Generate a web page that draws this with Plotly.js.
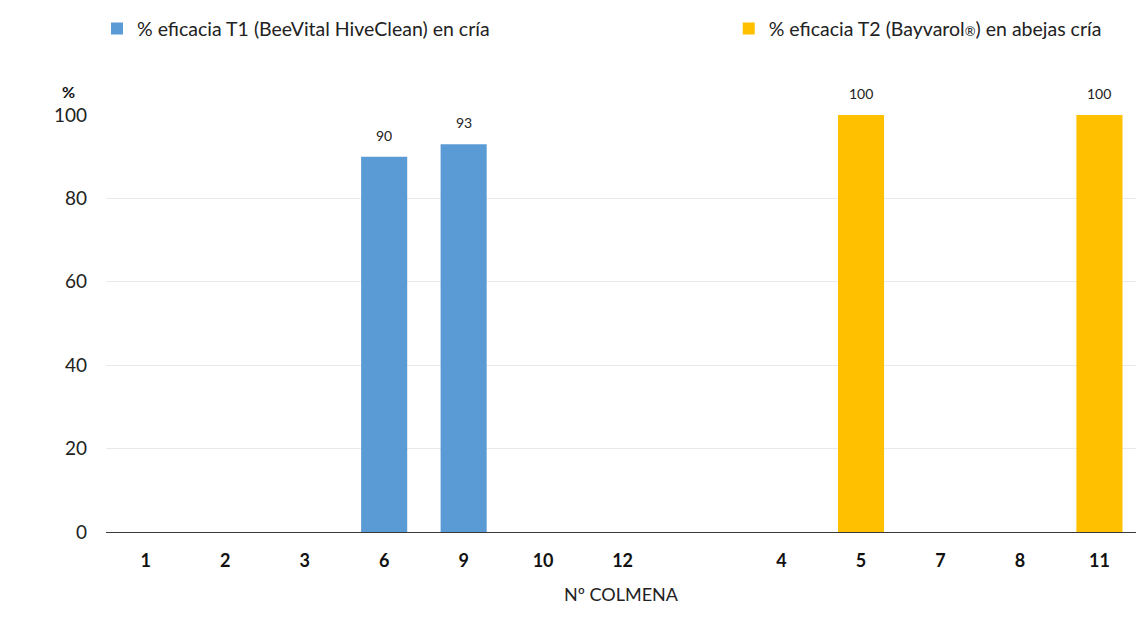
<!DOCTYPE html>
<html>
<head>
<meta charset="utf-8">
<script src="https://cdn.plot.ly/plotly-3.0.1.min.js"></script>
<style>
  html, body { margin: 0; padding: 0; background: #ffffff; }
  #chart { width: 1136px; height: 622px; }
</style>
</head>
<body>
<div id="chart"></div>
<script>
// Hive numbers on the x axis; a blank slot separates the two treatment groups
const groupT1 = ['1', '2', '3', '6', '9', '10', '12'];
const groupT2 = ['4', '5', '7', '8', '11'];
const gapSlot = ' ';
const categoryOrder = groupT1.concat([gapSlot], groupT2);

// Efficacy (%) per hive
const valuesT1 = [0, 0, 0, 90, 93, 0, 0];
const valuesT2 = [0, 100, 0, 0, 100];

const nameT1 = '% eficacia T1 (BeeVital HiveClean) en cría';
const nameT2 = '% eficacia T2 (Bayvarol<span style="font-size:13px">®</span>) en abejas cría';

const FONT = 'Lato, "Open Sans", "DejaVu Sans", sans-serif';

const traces = [
  {
    type: 'bar',
    name: nameT1,
    legend: 'legend',
    x: groupT1,
    y: valuesT1,
    width: 0.58,
    marker: { color: '#5b9bd5' },
    hoverinfo: 'x+y'
  },
  {
    type: 'bar',
    name: nameT2,
    legend: 'legend2',
    x: groupT2,
    y: valuesT2,
    width: 0.58,
    marker: { color: '#ffc000' },
    hoverinfo: 'x+y'
  }
];

// Value labels above the non-zero bars (numeric-looking category names are
// placed by their position in the category order)
const valueLabels = [];
[[groupT1, valuesT1], [groupT2, valuesT2]].forEach(([cats, vals]) => {
  vals.forEach((v, i) => {
    if (v > 0) {
      valueLabels.push({
        x: categoryOrder.indexOf(cats[i]), y: v, xref: 'x', yref: 'y',
        text: String(v), showarrow: false,
        yanchor: 'bottom', yshift: 11,
        font: { family: FONT, size: 14, color: '#222222' }
      });
    }
  });
});

const legendFont = { family: FONT, size: 19.5, color: '#222222' };

const layout = {
  width: 1136,
  height: 622,
  margin: { l: 106, r: 0, t: 115, b: 90 },
  paper_bgcolor: '#ffffff',
  plot_bgcolor: '#ffffff',
  font: { family: FONT, size: 19, color: '#222222' },
  barmode: 'overlay',
  showlegend: true,
  legend: {
    orientation: 'h',
    x: 0.0854, xref: 'container', xanchor: 'left',
    y: 0.985, yref: 'container', yanchor: 'top',
    itemwidth: 30,
    font: legendFont,
    bgcolor: 'rgba(0,0,0,0)'
  },
  legend2: {
    orientation: 'h',
    x: 0.6415, xref: 'container', xanchor: 'left',
    y: 0.985, yref: 'container', yanchor: 'top',
    itemwidth: 30,
    font: legendFont,
    bgcolor: 'rgba(0,0,0,0)'
  },
  xaxis: {
    type: 'category',
    categoryorder: 'array',
    categoryarray: categoryOrder,
    range: [-0.5, 12.46],
    showgrid: false,
    showline: false,
    zeroline: false,
    ticks: '',
    tickfont: { family: FONT, size: 18, color: '#111111', weight: 'bold' },
    ticklabelstandoff: 16,
    title: {
      text: 'Nº COLMENA',
      font: { family: FONT, size: 18, color: '#222222' },
      standoff: 18
    }
  },
  yaxis: {
    range: [0, 100],
    tickvals: [0, 20, 40, 60, 80, 100],
    showgrid: true,
    gridcolor: '#e9e9e9',
    gridwidth: 1,
    zeroline: true,
    zerolinecolor: '#3a3a3a',
    zerolinewidth: 1.3,
    showline: false,
    ticks: '',
    ticklabelstandoff: 18,
    tickfont: { family: FONT, size: 19, color: '#222222' }
  },
  annotations: [
    {
      text: '<b>%</b>',
      xref: 'paper',
      yref: 'paper',
      x: -0.0365,
      y: 1.0,
      xanchor: 'center',
      yanchor: 'bottom',
      yshift: 12,
      showarrow: false,
      font: { family: FONT, size: 16, color: '#111111' }
    }
  ].concat(valueLabels)
};

Plotly.newPlot('chart', traces, layout, { displayModeBar: false, responsive: false });
</script>
</body>
</html>
